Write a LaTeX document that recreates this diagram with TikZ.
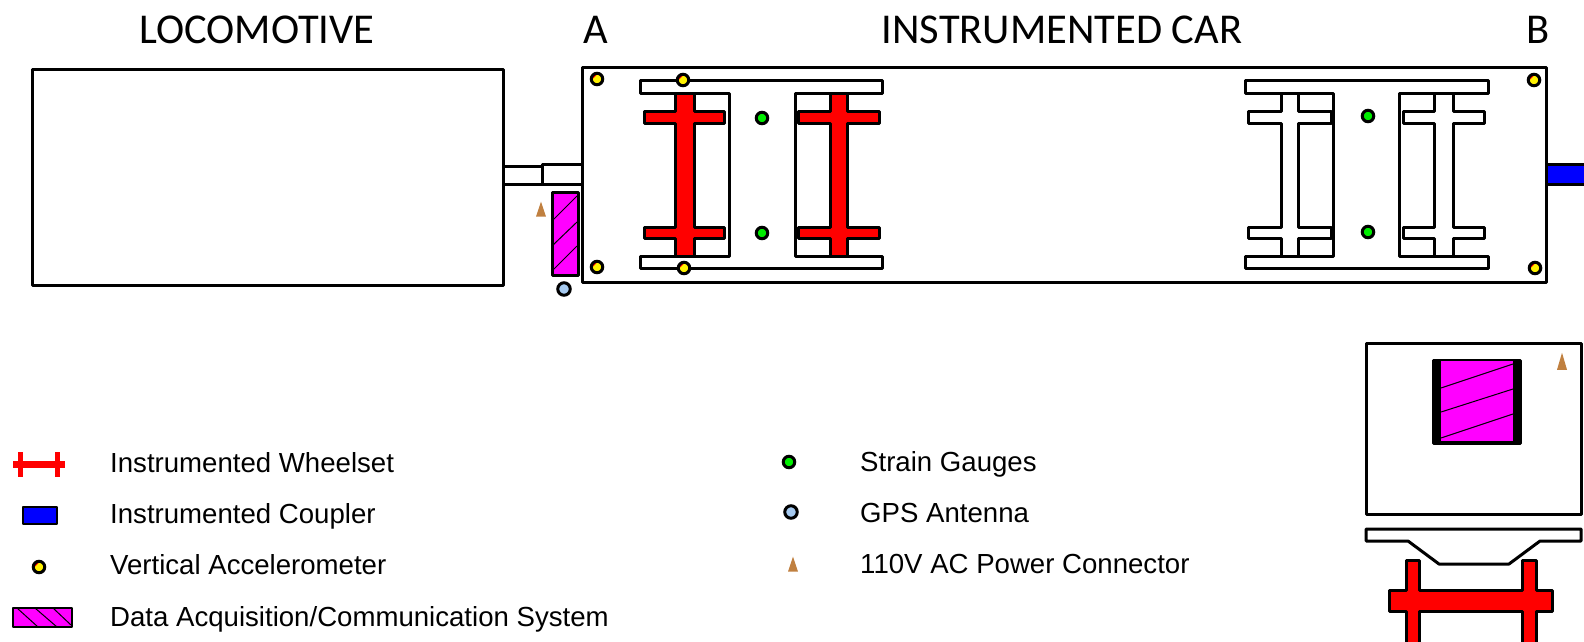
\documentclass[tikz,border=0pt]{standalone}
\usepackage{fontspec}
\setmainfont{Liberation Sans}
\newfontfamily\titlefont{Carlito}
\usetikzlibrary{positioning, shapes.geometric}
\definecolor{gaugegreen}{HTML}{00EE00}
\definecolor{gpsblue}{HTML}{A6CAF0}
\definecolor{powerbrown}{HTML}{C08040}
\definecolor{daqmagenta}{HTML}{FF00FF}
\tikzset{
	part/.style={draw, line width=3pt, line join=round},
	hatch/.style={draw, line width=1pt},
	dotnode/.style={draw, circle, line width=3pt, inner sep=0pt, minimum size=11.5pt},
	accelnode/.style={dotnode, fill=yellow, path picture={\fill[red] (path picture bounding box.north west) -- ++(7,0) -- ++(-7,7) -- cycle;}},
	gaugenode/.style={dotnode, fill=gaugegreen},
	gpsnode/.style={dotnode, fill=gpsblue, minimum size=12.5pt},
	powernode/.style={isosceles triangle, isosceles triangle stretches=true, shape border rotate=90, fill=powerbrown, inner sep=0pt, minimum width=10pt, minimum height=15pt},
	titletext/.style={font=\titlefont\fontsize{42.5}{42.5}\selectfont, inner sep=0pt},
	legendtext/.style={font=\fontsize{27.6}{28}\selectfont, inner sep=0pt, text height=20pt, text depth=6pt}
}
\begin{document}
\begin{tikzpicture}[x=1pt, y=-1pt, node distance=25pt]
		\useasboundingbox (0,0) rectangle (1584,641);

		% titles
		\node[titletext] (loco title) at (257,30) {LOCOMOTIVE};
		\node[titletext] (car title) at (1062,30) {INSTRUMENTED CAR};
		\node[titletext] (end a) at (596,30) {A};
		\node[titletext] (end b) at (1538,30) {B};

		% side view
		\draw[part] (32,69) rectangle (503,285);
		\draw[part] (503,166) rectangle (542,184);
		\draw[part] (542,164) rectangle (582,184);
		\draw[part] (582,67) rectangle (1546,282);
		\draw[part, fill=blue] (1546,164) rectangle (1590,184);

		% trucks
		\foreach \xa/\xb/\xc/\xd in {640/729/795/882, 1245/1333/1399/1488}{
			\draw[part] (\xa,80) -- (\xd,80) -- (\xd,93) -- (\xc,93) -- (\xc,256) -- (\xd,256) -- (\xd,268) -- (\xa,268) -- (\xa,256) -- (\xb,256) -- (\xb,93) -- (\xa,93) -- cycle;
		}

		% wheelsets
		\foreach \al/\ar/\bl/\br/\col in {675/694/644/724/red, 830/847/798/879/red, 1281/1298/1248/1331/white, 1434/1453/1403/1484/white}{
			\draw[part, fill=\col] (\al,93) -- (\ar,93) -- (\ar,111) -- (\br,111) -- (\br,123) -- (\ar,123) -- (\ar,227) -- (\br,227) -- (\br,238) -- (\ar,238) -- (\ar,256) -- (\al,256) -- (\al,238) -- (\bl,238) -- (\bl,227) -- (\al,227) -- (\al,123) -- (\bl,123) -- (\bl,111) -- (\al,111) -- cycle;
		}

		% data system, side view
		\draw[part, fill=daqmagenta] (552,192) rectangle (578,275);
		\draw[hatch] (553,220) -- (577,196);
		\draw[hatch] (553,245) -- (577,222);
		\draw[hatch] (553,270) -- (577,246);

		% sensors
		\node[accelnode] (accel 1) at (597,79) {};
		\node[accelnode] (accel 2) at (683,80) {};
		\node[accelnode] (accel 3) at (597,267) {};
		\node[accelnode] (accel 4) at (684,268) {};
		\node[accelnode] (accel 5) at (1534,80) {};
		\node[accelnode] (accel 6) at (1535,268) {};
		\node[gaugenode] (gauge 1) at (762,118) {};
		\node[gaugenode] (gauge 2) at (762,233) {};
		\node[gaugenode] (gauge 3) at (1368,116) {};
		\node[gaugenode] (gauge 4) at (1368,232) {};
		\node[gpsnode] (gps) at (564,289) {};
		\node[powernode] (power a) at (541,213) {};

		% end view
		\draw[part] (1366,343) rectangle (1581,514);
		\draw[part, fill=black] (1433,360) rectangle (1520,443);
		\fill[daqmagenta] (1441,361) rectangle (1513,441);
		\draw[hatch] (1441,388) -- (1513,364);
		\draw[hatch] (1441,412) -- (1513,389);
		\draw[hatch] (1441,438) -- (1513,414);
		\node[powernode, minimum height=17pt] (power end) at (1562,366) {};
		\draw[part] (1366,529) -- (1581,529) -- (1581,541) -- (1540,541) -- (1509,564) -- (1439,564) -- (1408,541) -- (1366,541) -- cycle;
		\draw[part, fill=red] (1406,645) -- (1406,611) -- (1389,611) -- (1389,590) -- (1406,590) -- (1406,560) -- (1419,560) -- (1419,590) -- (1522,590) -- (1522,560) -- (1536,560) -- (1536,590) -- (1552,590) -- (1552,611) -- (1536,611) -- (1536,645) -- (1522,645) -- (1522,611) -- (1419,611) -- (1419,645) -- cycle;

		% legend, left
		\fill[red] (13,461) rectangle (65,468);
		\fill[red] (18,452) rectangle (23,477);
		\fill[red] (55,452) rectangle (60,477);
		\draw[part, line width=2pt, fill=blue] (23,507) rectangle (57,524);
		\node[accelnode] (legend accel) at (39,567) {};
		\draw[part, line width=1.5pt, fill=daqmagenta] (13,608) rectangle (72,627);
		\draw[hatch] (17,608) -- (38,627);
		\draw[hatch] (35,608) -- (57,627);
		\draw[hatch] (53,608) -- (71,625);

		\node[legendtext, anchor=west] (wheelset label) at (110,465) {Instrumented Wheelset};
		\node[legendtext, below=of wheelset label.south west, anchor=north west] (coupler label) {Instrumented Coupler};
		\node[legendtext, below=of coupler label.south west, anchor=north west] (accel label) {Vertical Accelerometer};
		\node[legendtext, below=of accel label.south west, anchor=north west] (data label) {Data Acquisition/Communication System};

		% legend, right
		\node[gaugenode] (legend gauge) at (789,462) {};
		\node[gpsnode] (legend gps) at (791,512) {};
		\node[powernode] (legend power) at (793,568) {};
		\node[legendtext, anchor=west] (gauge label) at (860,464) {Strain Gauges};
		\node[legendtext, below=of gauge label.south west, anchor=north west] (gps label) {GPS Antenna};
		\node[legendtext, below=of gps label.south west, anchor=north west] (power label) {110V AC Power Connector};
	\end{tikzpicture}
\end{document}
